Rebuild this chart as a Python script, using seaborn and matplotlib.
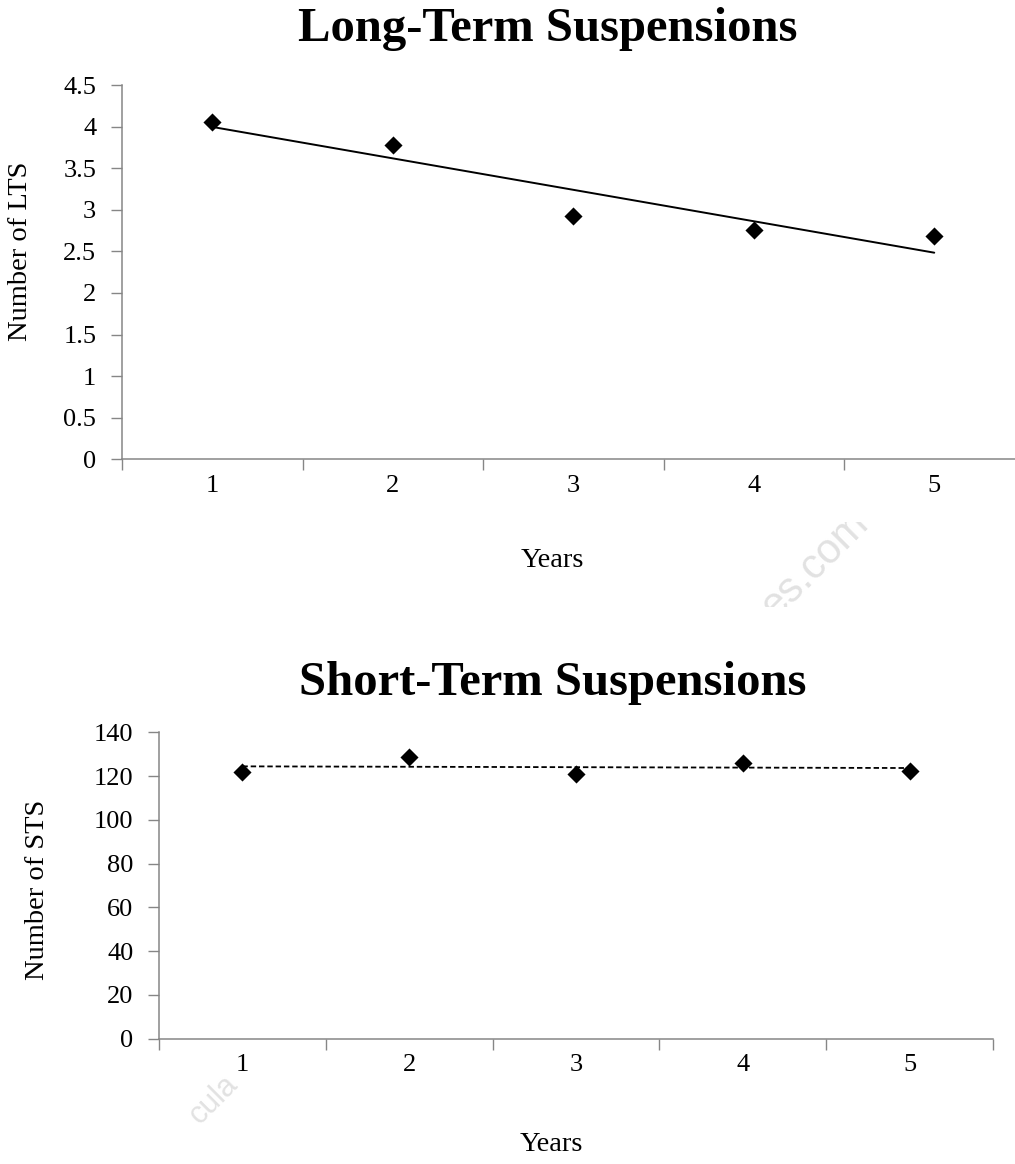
import pandas as pd
import seaborn as sns
import matplotlib.pyplot as plt
from matplotlib.transforms import Bbox

years = [1, 2, 3, 4, 5]
lts = [4.06, 3.78, 2.92, 2.76, 2.68]
sts = [122.0, 128.9, 120.8, 126.2, 122.4]
lts_ticks = [0, 0.5, 1, 1.5, 2, 2.5, 3, 3.5, 4, 4.5]
lts_ticklabels = ['0', '0.5', '1', '1.5', '2', '2.5', '3', '3.5', '4', '4.5']
sts_ticks = [0, 20, 40, 60, 80, 100, 120, 140]

df = pd.DataFrame({'Years': years, 'LTS': lts, 'STS': sts})

sns.set_style('white')
plt.rcParams['font.family'] = ['Liberation Serif', 'DejaVu Serif']
plt.rcParams['text.color'] = 'black'
plt.rcParams['axes.labelcolor'] = 'black'
plt.rcParams['xtick.labelcolor'] = 'black'
plt.rcParams['ytick.labelcolor'] = 'black'

W, H = 1015, 1164
fig = plt.figure(figsize=(W / 100, H / 100), dpi=100)
grey = '#868686'


def px_axes(left, top, right, bottom):
    return fig.add_axes([left / W, 1 - bottom / H, (right - left) / W, (bottom - top) / H])


ax1 = px_axes(122, 85, 1024.5, 459.3)
ax2 = px_axes(159, 732.3, 993, 1038.7)

pts = {'color': 'black', 's': 85, 'linewidths': 0, 'alpha': 1, 'zorder': 3}
sns.regplot(data=df, x='Years', y='LTS', ax=ax1, ci=None, marker='D',
            scatter_kws=pts, line_kws={'color': 'black', 'lw': 1.4})
sns.regplot(data=df, x='Years', y='STS', ax=ax2, ci=None, marker='D',
            scatter_kws=pts, line_kws={'color': 'black', 'lw': 1.3, 'ls': (0, (3, 1.6))})

for ax in (ax1, ax2):
    ax.set_xlim(0.5, 5.5)
    ax.set_xticks([0.5, 1.5, 2.5, 3.5, 4.5, 5.5])
    ax.set_xticklabels([])
    ax.set_xticks(years, minor=True)
    ax.set_xticklabels([str(y) for y in years], minor=True)
    ax.tick_params(axis='x', which='major', length=8, width=1, color=grey, direction='out', bottom=True)
    ax.tick_params(axis='x', which='minor', length=0, pad=11, labelsize=19)
    ax.tick_params(axis='y', length=8, width=1, color=grey, direction='out', left=True, pad=10.5, labelsize=19)
    for s in ('top', 'right'):
        ax.spines[s].set_visible(False)
    for s in ('left', 'bottom'):
        ax.spines[s].set_color(grey)
        ax.spines[s].set_linewidth(1.1)
    ax.set_facecolor('none')

ax1.set_ylim(0, 4.5)
ax1.set_yticks(lts_ticks)
ax1.set_yticklabels(lts_ticklabels)
ax2.set_ylim(0, 140)
ax2.set_yticks(sts_ticks)

ax1.set_ylabel('Number of LTS', fontsize=20.5)
ax1.yaxis.set_label_coords(-0.0987, 0.5565)
ax1.set_xlabel('Years', fontsize=20.5)
ax1.xaxis.set_label_coords(0.4764, -0.238)

ax2.set_ylabel('Number of STS', fontsize=20.5)
ax2.yaxis.set_label_coords(-0.1307, 0.4853)
ax2.set_xlabel('Years', fontsize=20.5)
ax2.xaxis.set_label_coords(0.470, -0.303)

fig.text(548 / W, 1 - 41 / H, 'Long-Term Suspensions', ha='center', va='baseline',
         fontsize=35, fontweight='bold')
fig.text(553 / W, 1 - 695 / H, 'Short-Term Suspensions', ha='center', va='baseline',
         fontsize=35, fontweight='bold')

# faint watermark fragments
wm = fig.text(815 / W, 1 - 565 / H, 'es.com', ha='center', va='center', rotation=45,
              fontsize=30, color='#e2e2e2', family='Liberation Sans', zorder=0)
wm.set_clip_box(Bbox([[600, H - 607], [W, H - 522]]))
fig.text(214 / W, 1 - 1100 / H, 'cula', ha='center', va='center', rotation=45,
         fontsize=22, color='#e2e2e2', family='Liberation Sans', zorder=0)

fig.savefig('out.png', dpi=100, facecolor='white')
